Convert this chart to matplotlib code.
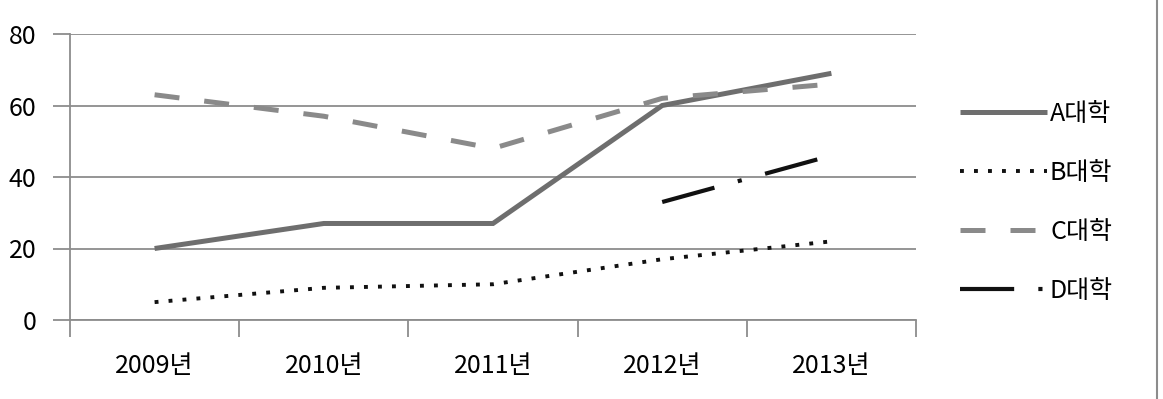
import matplotlib
matplotlib.use("Agg")
import matplotlib.pyplot as plt
from matplotlib.lines import Line2D

plt.rcParams['font.family'] = ['Noto Sans CJK KR', 'DejaVu Sans']

categories = ["2009년", "2010년", "2011년", "2012년", "2013년"]
a_vals = [20, 27, 27, 60, 69]
b_vals = [5, 9, 10, 17, 22]
c_vals = [63, 57, 48, 62, 66]
d_vals = [None, None, None, 33, 46]
series_names = ["A대학", "B대학", "C대학", "D대학"]
y_ticks = [0, 20, 40, 60, 80]

fig = plt.figure(figsize=(11.63, 3.99), dpi=100)
ax = fig.add_axes([70/1163, 1 - 320/399, (916-70)/1163, (320-34)/399])

x = list(range(len(categories)))
l_a, = ax.plot(x, a_vals, color='#6e6e6e', lw=3.6, solid_capstyle='butt', solid_joinstyle='miter')
l_b, = ax.plot(x, b_vals, color='#111111', lw=2.8, dashes=(1, 2.6))
l_c, = ax.plot(x, c_vals, color='#8a8a8a', lw=3.6, dashes=(5, 5))
dx = [xi for xi, v in zip(x, d_vals) if v is not None]
dy = [v for v in d_vals if v is not None]
l_d, = ax.plot(dx, dy, color='#111111', lw=3.0, dashes=(13, 5.8, 1, 5.8))

ax.set_xlim(-0.5, len(categories) - 0.5)
ax.set_ylim(0, 80)
ax.set_yticks(y_ticks)
ax.set_yticklabels([str(t) for t in y_ticks], fontsize=18)
ax.yaxis.grid(True, color='#8c8c8c', lw=1.3)
ax.set_axisbelow(True)

ax.set_xticks([i - 0.5 for i in range(len(categories) + 1)])
ax.set_xticklabels([])
ax.set_xticks(x, minor=True)
ax.set_xticklabels(categories, minor=True, fontsize=18)
ax.tick_params(axis='x', which='major', length=12, width=1.3, color='#8c8c8c', direction='out')
ax.tick_params(axis='x', which='minor', length=0, pad=24)
ax.tick_params(axis='y', length=12, width=1.3, color='#8c8c8c', pad=12)

for s in ['top', 'right']:
    ax.spines[s].set_visible(False)
for s in ['left', 'bottom']:
    ax.spines[s].set_color('#8c8c8c')
    ax.spines[s].set_linewidth(1.3)

ax.legend([l_a, l_b, l_c, l_d], series_names, loc='center left',
          bbox_to_anchor=(947/1163, 1 - 202.5/399), bbox_transform=fig.transFigure,
          frameon=False, fontsize=18, handlelength=3.5, handletextpad=0.12,
          labelspacing=1.32, borderpad=0)

fig.add_artist(Line2D([1157/1163, 1157/1163], [0, 1], transform=fig.transFigure,
                      color='#8c8c8c', lw=1.5))

fig.savefig('out.png', dpi=100, facecolor='white')
